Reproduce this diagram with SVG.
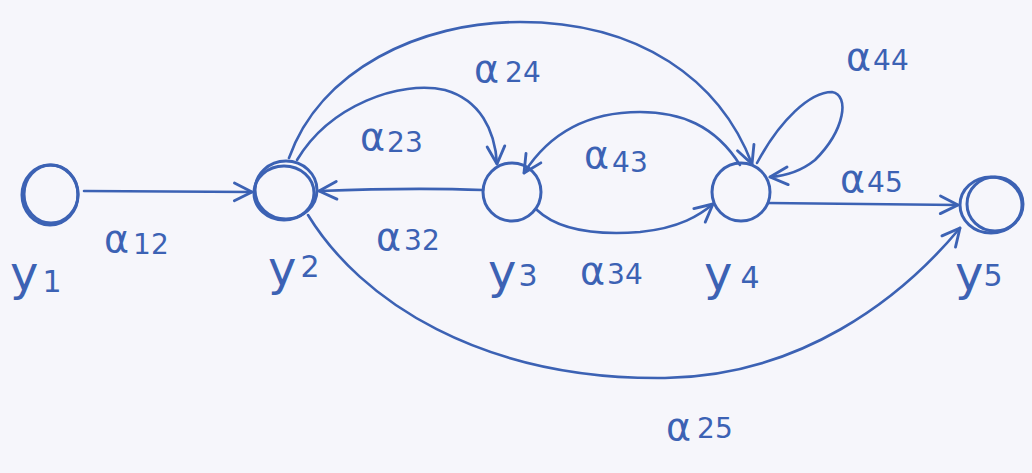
<svg xmlns="http://www.w3.org/2000/svg" width="1032" height="473" viewBox="0 0 1032 473">
<defs>
<style>
.bg{fill:#f6f6fb}
.n{fill:none;stroke:#3c62b4;stroke-width:3}
.e{fill:none;stroke:#3c62b4;stroke-width:2.6;stroke-linecap:round}
.t{font-family:"DejaVu Sans","Liberation Sans",sans-serif;fill:#3c62b4}
.a{font-size:38px}
.s{font-size:28px}
.y{font-size:48px}
.ys{font-size:30px}
</style>
<marker id="ar" markerUnits="userSpaceOnUse" viewBox="0 0 20 20" refX="18" refY="10" markerWidth="22" markerHeight="22" orient="auto">
<path d="M2,2 L18,10 L2,18" fill="none" stroke="#3c62b4" stroke-width="2.6" stroke-linecap="round" stroke-linejoin="round"/>
</marker>
</defs>
<rect class="bg" x="0" y="0" width="1032" height="473"/>
<g id="connectors">
<path id="e12" class="e" d="M84,191 L252,192" marker-end="url(#ar)"/>
<path id="e32" class="e" d="M483,190 C430,188 370,189 319,191" marker-end="url(#ar)"/>
<path id="e23" class="e" d="M297,160 C330,105 400,80 445,90 C480,100 495,130 497,164" marker-end="url(#ar)"/>
<path id="e24" class="e" d="M289,158 C320,70 420,22 520,22 C640,22 720,80 752,164" marker-end="url(#ar)"/>
<path id="e43" class="e" d="M740,165 C715,125 680,112 640,112 C580,112 545,140 524,173" marker-end="url(#ar)"/>
<path id="e34" class="e" d="M537,210 C560,232 600,235 640,232 C680,228 700,215 713,204" marker-end="url(#ar)"/>
<path id="e44" class="e" d="M757,163 C780,120 810,92 832,92 C850,95 845,130 815,160 C800,172 785,176 770,177" marker-end="url(#ar)"/>
<path id="e45" class="e" d="M768,203 L958,205" marker-end="url(#ar)"/>
<path id="e25" class="e" d="M308,215 C360,300 480,380 665,378 C800,376 900,300 960,228" marker-end="url(#ar)"/>
</g>
<g id="y1">
<ellipse class="n" cx="50" cy="195" rx="28" ry="30"/>
<ellipse class="n" cx="51" cy="194" rx="27" ry="29" stroke-width="1.5"/>
<text class="t y" x="10" y="290">y<tspan class="ys" dx="4" dy="2">1</tspan></text>
</g>
<g id="y2">
<ellipse class="n" cx="286" cy="190" rx="31" ry="29"/>
<ellipse class="n" cx="284" cy="193" rx="30" ry="27" stroke-width="1.5"/>
<text class="t y" x="268" y="285">y<tspan class="ys" dx="4" dy="-8">2</tspan></text>
</g>
<g id="y3">
<circle class="n" cx="512" cy="192" r="29"/>
<text class="t y" x="488" y="288">y<tspan class="ys" dx="2" dy="-2">3</tspan></text>
</g>
<g id="y4">
<circle class="n" cx="741" cy="192" r="29"/>
<text class="t y" x="704" y="290">y<tspan class="ys" dx="8" dy="-2">4</tspan></text>
</g>
<g id="y5">
<ellipse class="n" cx="991" cy="205" rx="31" ry="28"/>
<ellipse class="n" cx="995" cy="204" rx="28" ry="27" stroke-width="1.5"/>
<text class="t y" x="955" y="290">y<tspan class="ys" dx="0" dy="-4">5</tspan></text>
</g>
<g id="labels">
<text class="t a" x="104" y="252">α<tspan class="s" dx="4" dy="2">12</tspan></text>
<text class="t a" x="474" y="82">α<tspan class="s" dx="6" dy="0">24</tspan></text>
<text class="t a" x="360" y="150">α<tspan class="s" dx="2" dy="2">23</tspan></text>
<text class="t a" x="376" y="250">α<tspan class="s" dx="3" dy="0">32</tspan></text>
<text class="t a" x="584" y="168">α<tspan class="s" dx="3" dy="4">43</tspan></text>
<text class="t a" x="580" y="284">α<tspan class="s" dx="2" dy="0">34</tspan></text>
<text class="t a" x="846" y="70">α<tspan class="s" dx="2" dy="0">44</tspan></text>
<text class="t a" x="840" y="192">α<tspan class="s" dx="2" dy="0">45</tspan></text>
<text class="t a" x="666" y="440">α<tspan class="s" dx="6" dy="-2">25</tspan></text>
</g>
</svg>
